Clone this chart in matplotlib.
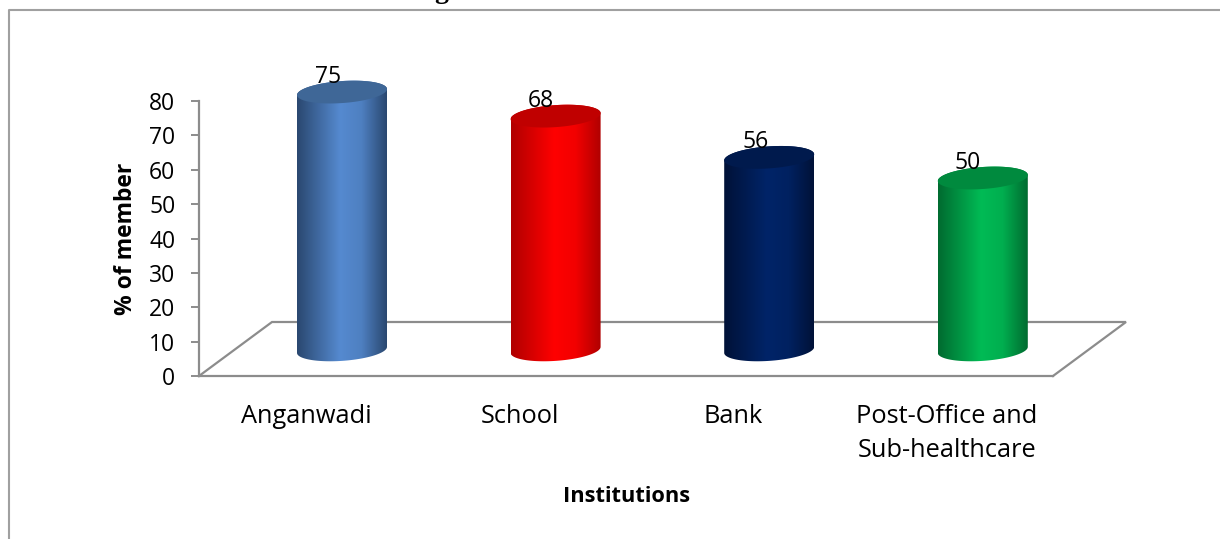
import numpy as np
import matplotlib
matplotlib.use("Agg")
import matplotlib.pyplot as plt
from matplotlib.colors import LinearSegmentedColormap
from matplotlib.patches import Polygon

W, H = 1220, 539
categories = ["Anganwadi", "School", "Bank", "Post-Office and\nSub-healthcare"]
values = [75, 68, 56, 50]
side_mid = ["#558AD0", "#FF0000", "#002468", "#00BB55"]
side_edge = ["#2A4870", "#B00000", "#001238", "#006B30"]
top_col = ["#3F6797", "#C00000", "#001A4D", "#008A3E"]
label_dx = [-14, -15, -14, -15]
yticks = [0, 10, 20, 30, 40, 50, 60, 70, 80]

FONT = "Open Sans"
plt.rcParams["font.family"] = [FONT, "DejaVu Sans"]
fig = plt.figure(figsize=(W / 100, H / 100), dpi=100)

x0, x1, y0, y1 = 199, 1053, 376, 101
ax = fig.add_axes([x0 / W, 1 - y0 / H, (x1 - x0) / W, (y0 - y1) / H])
ax.patch.set_visible(False)
px_x = 213.6
px_y = (y0 - y1) / 80
xlim = (-(342 - x0) / px_x, (x1 - 342) / px_x)
ylim = (0, 80)

GREY = "#8C8C8C"
# frame (cropped by the picture edge on the top and right)
fig.add_artist(plt.Line2D([8.5 / W, 8.5 / W, 1], [0, 1 - 10 / H, 1 - 10 / H],
                          color="#A0A0A0", lw=1.5, transform=fig.transFigure))
fig.text(441 / W, 1 + 2 / H, "g", family="Liberation Serif", weight="bold", fontsize=20,
         ha="center", va="baseline", color="black")

xs = np.arange(len(values))
# floor of the 3D box
fdx, fdy = 73 / px_x, 54 / px_y
ax.plot([xlim[0], xlim[0] + fdx, xlim[1] + fdx, xlim[1]], [0, fdy, fdy, 0],
        color=GREY, lw=1.6, clip_on=False, zorder=1, solid_joinstyle="miter")

# cylinders
a = 45 / px_x
b = 11 / px_y
k = 3 / px_y
depth = 7.6
t = np.linspace(0, 2 * np.pi, 181)
for i, v in enumerate(values):
    xc = xs[i]
    ex = xc + a * np.cos(t)
    ed = b * np.sin(t) + k * np.cos(t)
    # outline: the lower half of the base and the upper half of the top
    low = np.linspace(np.pi, 2 * np.pi, 90)
    base_x = xc + a * np.cos(low)
    base_y = depth + b * np.sin(low) + k * np.cos(low)
    high = np.linspace(0, np.pi, 90)
    top_x = xc + a * np.cos(high)
    top_y = depth + v + b * np.sin(high) + k * np.cos(high)
    verts = np.column_stack([np.r_[base_x, top_x], np.r_[base_y, top_y]])
    body = Polygon(verts, closed=True, fc="none", ec="none", transform=ax.transData)
    ax.add_patch(body)
    cmap = LinearSegmentedColormap.from_list(
        "c", [side_edge[i], side_mid[i], side_edge[i]])
    g = np.interp(np.linspace(0, 1, 256), [0, .48, .72, 1], [0, .5, .58, 1])[None, :]
    im = ax.imshow(g, cmap=cmap, vmin=0, vmax=1, aspect="auto", zorder=3,
                   extent=(xc - a, xc + a, depth - 6, depth + v + 6))
    im.set_clip_box(fig.bbox)
    im.set_clip_path(body)
    ax.fill(ex, depth + v + ed, color=top_col[i], lw=0, zorder=4, clip_on=False)
    ax.annotate(str(v), (xc, depth + v), xytext=(label_dx[i] * 0.72, 15 * 0.72),
                textcoords="offset points", ha="center", va="center",
                fontsize=16.5, color="black", zorder=6, annotation_clip=False)

ax.set_xlim(*xlim)
ax.set_ylim(*ylim)
for s in ("top", "right"):
    ax.spines[s].set_visible(False)
for s in ("left", "bottom"):
    ax.spines[s].set_color(GREY)
    ax.spines[s].set_linewidth(1.6)
    ax.spines[s].set_zorder(1)
ax.set_yticks(yticks)
ax.tick_params(axis="y", length=6, width=1.4, color=GREY, labelsize=16.5, pad=11, labelcolor="black")
# category labels sit left of the cylinders because of the 3D projection
ax.set_xticks(xs - 36 / px_x, categories)
ax.tick_params(axis="x", length=0, labelsize=18.3, pad=20.5, labelcolor="black")
for lab in ax.get_xticklabels():
    lab.set_linespacing(1.46)
ax.set_xlabel("Institutions", fontsize=15.7, fontweight="bold", labelpad=0)
ax.xaxis.set_label_coords((627 - x0) / (x1 - x0), -(496 - y0) / (y0 - y1))
ax.xaxis.label.set_va("center")
ax.set_ylabel("% of member", fontsize=16.5, fontweight="bold")
ax.yaxis.set_label_coords((126 - x0) / (x1 - x0), (y0 - 239) / (y0 - y1))
ax.yaxis.label.set_va("center")

fig.savefig("out.png", dpi=100, facecolor="white")
